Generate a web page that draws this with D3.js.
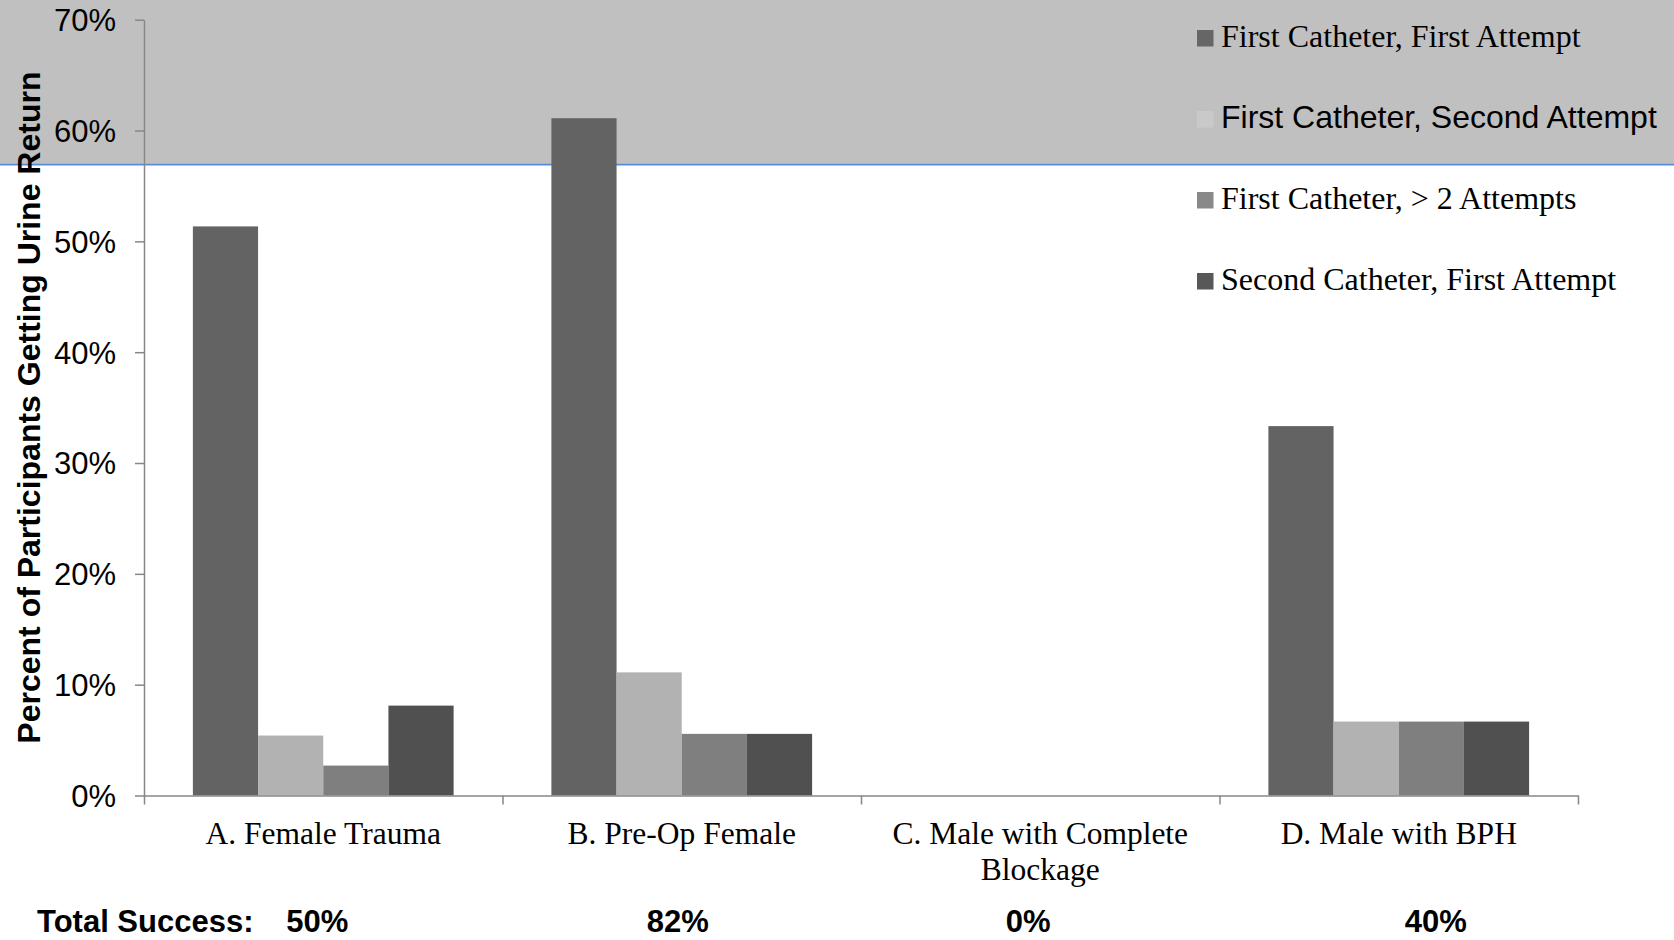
<!DOCTYPE html>
<html>
<head>
<meta charset="utf-8">
<script src="https://cdn.jsdelivr.net/npm/d3@7"></script>
<style>
  html, body { margin: 0; padding: 0; background: #fff; overflow: hidden; }
  svg { display: block; }
</style>
</head>
<body>
<svg id="chart" width="1674" height="940"></svg>
<script>
// ---- data ----
const categories = ["A. Female Trauma", "B. Pre-Op Female", "C. Male with Complete Blockage", "D. Male with BPH"];
const categoryLines = [["A. Female Trauma"], ["B. Pre-Op Female"], ["C. Male with Complete", "Blockage"], ["D. Male with BPH"]];
const seriesNames = [
  "First Catheter, First Attempt",
  "First Catheter, Second Attempt",
  "First Catheter, > 2 Attempts",
  "Second Catheter, First Attempt"
];
// percent of participants in each group
const firstCatheterFirstAttempt  = [51.35, 61.11, 0, 33.33];
const firstCatheterSecondAttempt = [5.41, 11.11, 0, 6.67];
const firstCatheterMoreAttempts  = [2.70, 5.56, 0, 6.67];
const secondCatheterFirstAttempt = [8.11, 5.56, 0, 6.67];
const yTicks = [0, 10, 20, 30, 40, 50, 60, 70];
const totalSuccess = ["50%", "82%", "0%", "40%"];
const yTitle = "Percent of Participants Getting Urine Return";
const totalTitle = "Total Success:";

// ---- styles / layout ----
const barColors    = ["#636363", "#b2b2b2", "#7f7f7f", "#505050"];
const swatchColors = ["#666666", "#c9c9c9", "#898989", "#585858"];
const legendFonts  = ["Liberation Serif", "Liberation Sans", "Liberation Serif", "Liberation Serif"];
const totalShift   = [-6, -4, -12, 37];   // horizontal nudge of each total label from its group centre
const serif = "'Liberation Serif', 'Times New Roman', serif";
const sans  = "'Liberation Sans', Arial, sans-serif";
const axisColor = "#878787";

const W = 1674, H = 940;
const plot = { left: 144, right: 1578, top: 19.7, bottom: 795.5 };

const seriesValues = [firstCatheterFirstAttempt, firstCatheterSecondAttempt, firstCatheterMoreAttempts, secondCatheterFirstAttempt];
const rows = categories.map((c, i) => ({
  category: c,
  values: seriesNames.map((s, j) => ({ series: s, index: j, value: seriesValues[j][i] }))
}));

const svg = d3.select("#chart");

const x0 = d3.scaleBand().domain(categories).range([plot.left, plot.right]).paddingInner(0).paddingOuter(0);
const x1 = d3.scaleBand().domain(seriesNames).range([0, x0.bandwidth()]).paddingInner(0).paddingOuter(0.75);
const y = d3.scaleLinear().domain([0, 70]).range([plot.bottom, plot.top]);
const color = d3.scaleOrdinal().domain(seriesNames).range(barColors);

// grey band across the top with a blue rule under it
const bandBottom = 163.5;
svg.append("rect").attr("x", 0).attr("y", 0).attr("width", W).attr("height", bandBottom).attr("fill", "#c0c0c0");
svg.append("line").attr("x1", 0).attr("x2", W).attr("y1", bandBottom + 1).attr("y2", bandBottom + 1)
  .attr("stroke", "#5b8bd2").attr("stroke-width", 2);

// bars
const groups = svg.append("g").selectAll("g").data(rows).join("g")
  .attr("transform", d => `translate(${x0(d.category)},0)`);
groups.selectAll("rect").data(d => d.values.filter(v => v.value > 0)).join("rect")
  .attr("x", d => x1(d.series))
  .attr("width", x1.bandwidth())
  .attr("y", d => y(d.value))
  .attr("height", d => y(0) - y(d.value))
  .attr("fill", d => color(d.series));

// y axis
const yAxis = svg.append("g").attr("transform", `translate(${plot.left},0)`)
  .call(d3.axisLeft(y).tickValues(yTicks).tickFormat(d => d + "%").tickSize(9).tickSizeOuter(0).tickPadding(19));
yAxis.select(".domain").attr("stroke", axisColor).attr("stroke-width", 1.5);
yAxis.selectAll(".tick line").attr("stroke", axisColor).attr("stroke-width", 1.5);
yAxis.selectAll(".tick text").attr("font-family", sans).attr("font-size", 31).attr("fill", "#000").attr("dy", "0.35em");

// x axis: ticks at the group boundaries
const edge = d3.scaleLinear().domain([0, categories.length]).range([plot.left, plot.right]);
const xAxis = svg.append("g").attr("transform", `translate(0,${plot.bottom})`)
  .call(d3.axisBottom(edge).tickValues(d3.range(categories.length + 1)).tickFormat("").tickSize(9).tickSizeOuter(0));
xAxis.select(".domain").attr("stroke", axisColor).attr("stroke-width", 1.5);
xAxis.selectAll(".tick line").attr("stroke", axisColor).attr("stroke-width", 1.5);

// category labels
const catLabels = svg.append("g").selectAll("text").data(categories).join("text")
  .attr("x", d => x0(d) + x0.bandwidth() / 2)
  .attr("y", 844)
  .attr("text-anchor", "middle")
  .attr("font-family", serif).attr("font-size", 31.5).attr("fill", "#000");
catLabels.selectAll("tspan").data((d, i) => categoryLines[i]).join("tspan")
  .attr("x", function () { return d3.select(this.parentNode).attr("x"); })
  .attr("dy", (d, i) => i === 0 ? 0 : 36)
  .text(d => d);

// y axis title
svg.append("text")
  .attr("transform", `translate(39.5,${(plot.top + plot.bottom) / 2}) rotate(-90)`)
  .attr("text-anchor", "middle")
  .attr("font-family", sans).attr("font-weight", "bold").attr("font-size", 32).attr("fill", "#000")
  .text(yTitle);

// legend
const legend = svg.append("g").attr("transform", "translate(1197,0)");
const legendItems = legend.selectAll("g").data(seriesNames).join("g")
  .attr("transform", (d, i) => `translate(0,${47 + i * 81})`);
legendItems.append("rect").attr("x", 0).attr("y", -17).attr("width", 16.5).attr("height", 16.5)
  .attr("fill", (d, i) => swatchColors[i]);
legendItems.append("text").attr("x", 24).attr("y", 0)
  .attr("font-family", (d, i) => legendFonts[i] === "Liberation Sans" ? sans : serif)
  .attr("font-size", 32).attr("fill", "#000")
  .text(d => d);

// total success row
const totalBaseline = 932;
svg.append("text").attr("x", 37).attr("y", totalBaseline)
  .attr("font-family", sans).attr("font-weight", "bold").attr("font-size", 31).attr("fill", "#000")
  .text(totalTitle);
svg.append("g").selectAll("text").data(totalSuccess).join("text")
  .attr("x", (d, i) => x0(categories[i]) + x0.bandwidth() / 2 + totalShift[i])
  .attr("y", totalBaseline)
  .attr("text-anchor", "middle")
  .attr("font-family", sans).attr("font-weight", "bold").attr("font-size", 31).attr("fill", "#000")
  .text(d => d);
</script>
</body>
</html>
